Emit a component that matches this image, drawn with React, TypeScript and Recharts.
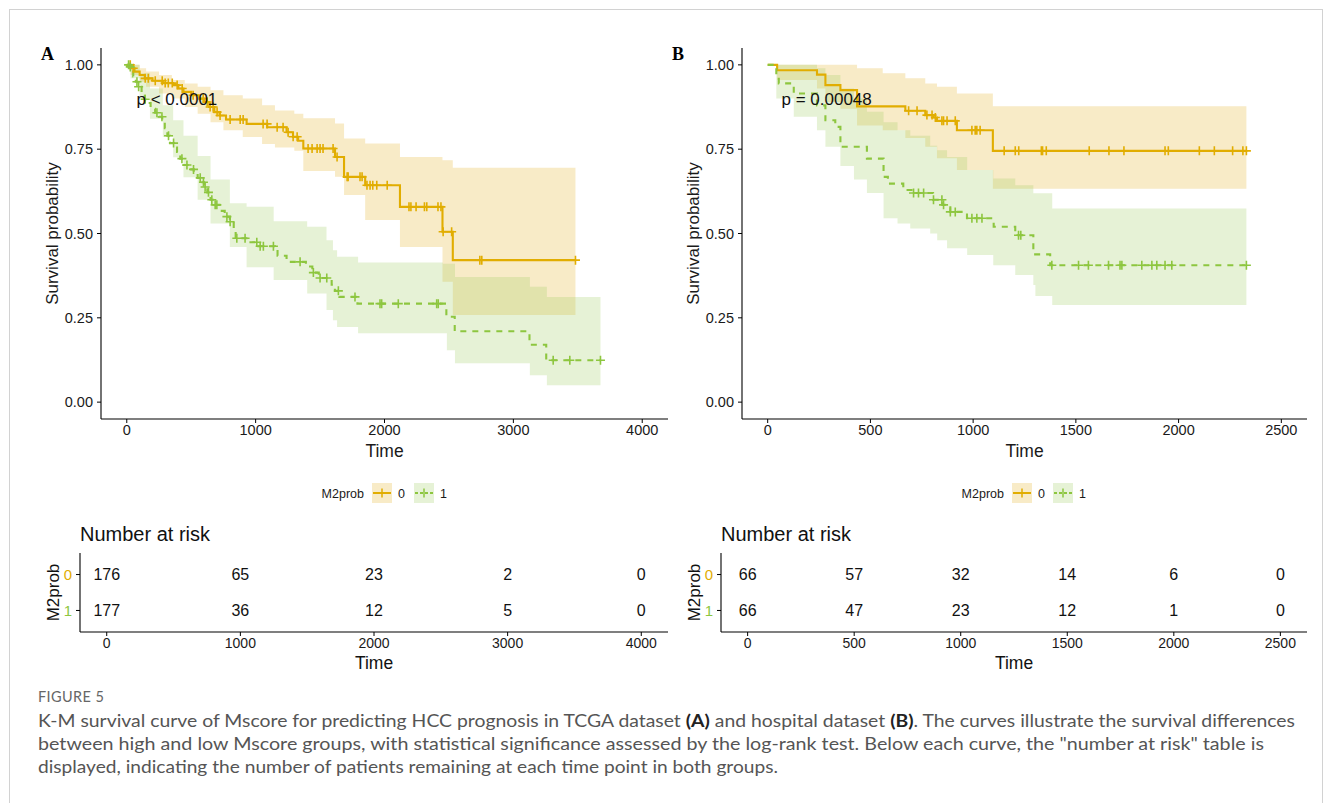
import React from "react";
import { ComposedChart, ScatterChart, Area, Line, Scatter, XAxis, YAxis } from "recharts";

// ---- colours ----
const ORANGE = "#E1AD01";
const GREEN = "#8DC63F";
const ORANGE_BAND = "#E9BC45";
const GREEN_BAND = "#9CCB5A";

// ---- panel A (TCGA), group 0 ----
const a0Time = [0, 30, 60, 100, 140, 200, 280, 360, 400, 440, 500, 560, 600, 640, 680, 720, 770, 930, 1090, 1240, 1290, 1330, 1370, 1616, 1686, 1850, 2120, 2450, 2530];
const a0Surv = [1, 0.99, 0.98, 0.97, 0.96, 0.953, 0.946, 0.94, 0.93, 0.92, 0.91, 0.9, 0.89, 0.875, 0.86, 0.85, 0.838, 0.825, 0.815, 0.8, 0.787, 0.775, 0.752, 0.727, 0.668, 0.643, 0.579, 0.505, 0.421];
const a0Cens = [27, 50, 143, 167, 221, 275, 298, 322, 353, 391, 430, 515, 593, 624, 647, 670, 701, 724, 802, 880, 903, 1058, 1089, 1167, 1213, 1252, 1291, 1322, 1407, 1438, 1477, 1500, 1523, 1601, 1632, 1710, 1718, 1810, 1826, 1864, 1888, 1909, 1940, 2021, 2190, 2205, 2245, 2310, 2328, 2415, 2438, 2455, 2521, 2740, 2755, 3482];
const a0End = 3482;
const a0BandTime = [0, 30, 100, 150, 250, 350, 450, 550, 650, 750, 900, 1050, 1150, 1300, 1370, 1616, 1686, 1850, 2120, 2450, 2530];
const a0Lower = [1, 0.97, 0.95, 0.935, 0.915, 0.9, 0.875, 0.855, 0.83, 0.806, 0.786, 0.765, 0.755, 0.745, 0.685, 0.668, 0.614, 0.54, 0.46, 0.357, 0.258];
const a0Upper = [1, 1, 0.99, 0.98, 0.97, 0.955, 0.945, 0.935, 0.925, 0.91, 0.9, 0.88, 0.865, 0.855, 0.842, 0.826, 0.782, 0.767, 0.727, 0.717, 0.695];

// ---- panel A (TCGA), group 1 ----
const a1Time = [0, 15, 30, 50, 70, 90, 115, 140, 160, 185, 220, 250, 275, 295, 315, 335, 365, 390, 415, 440, 480, 520, 550, 575, 600, 625, 650, 680, 720, 760, 800, 830, 845, 960, 1010, 1150, 1170, 1240, 1390, 1440, 1490, 1590, 1615, 1650, 1790, 2480, 2545, 3125, 3255];
const a1Surv = [1, 0.994, 0.983, 0.966, 0.95, 0.935, 0.915, 0.898, 0.887, 0.87, 0.858, 0.846, 0.83, 0.812, 0.79, 0.768, 0.755, 0.742, 0.722, 0.703, 0.69, 0.678, 0.665, 0.652, 0.638, 0.622, 0.6, 0.585, 0.567, 0.55, 0.535, 0.51, 0.486, 0.474, 0.462, 0.452, 0.434, 0.416, 0.402, 0.384, 0.368, 0.348, 0.33, 0.312, 0.292, 0.253, 0.21, 0.17, 0.124];
const a1Cens = [14, 27, 79, 92, 143, 234, 273, 324, 363, 428, 467, 518, 570, 595, 608, 634, 660, 686, 699, 777, 802, 854, 918, 1009, 1035, 1060, 1138, 1345, 1448, 1500, 1552, 1642, 1771, 1965, 1978, 2107, 2405, 2417, 3309, 3438, 3676];
const a1End = 3676;
const a1BandTime = [0, 30, 100, 180, 280, 360, 440, 550, 650, 800, 930, 1140, 1400, 1550, 1600, 1632, 1795, 2453, 2484, 2547, 3128, 3260];
const a1Lower = [1, 0.96, 0.9, 0.84, 0.786, 0.726, 0.667, 0.6, 0.53, 0.46, 0.4, 0.362, 0.322, 0.273, 0.243, 0.223, 0.204, 0.204, 0.154, 0.115, 0.08, 0.05];
const a1Upper = [1, 1, 0.975, 0.93, 0.88, 0.836, 0.79, 0.73, 0.66, 0.59, 0.579, 0.536, 0.52, 0.48, 0.45, 0.431, 0.414, 0.41, 0.41, 0.371, 0.342, 0.312];

// ---- panel B (hospital), group 0 ----
const b0Time = [0, 46, 240, 281, 354, 435, 670, 767, 807, 824, 921, 1096];
const b0Surv = [1, 0.984, 0.971, 0.94, 0.925, 0.877, 0.864, 0.851, 0.844, 0.834, 0.806, 0.745];
const b0Cens = [686, 727, 775, 800, 816, 848, 856, 873, 913, 994, 1010, 1018, 1034, 1151, 1205, 1222, 1332, 1338, 1356, 1565, 1661, 1734, 1934, 1950, 2101, 2174, 2263, 2313, 2330];
const b0End = 2330;
const b0BandTime = [0, 46, 240, 281, 354, 435, 560, 670, 767, 824, 921, 1096];
const b0Lower = [1, 0.955, 0.93, 0.89, 0.87, 0.82, 0.806, 0.783, 0.757, 0.723, 0.688, 0.633];
const b0Upper = [1, 1, 1, 1, 1, 0.99, 0.975, 0.96, 0.945, 0.935, 0.915, 0.877];

// ---- panel B (hospital), group 1 ----
const b1Time = [0, 42, 54, 127, 240, 281, 329, 354, 483, 564, 585, 660, 700, 805, 850, 889, 970, 1100, 1205, 1293, 1375];
const b1Surv = [1, 0.97, 0.945, 0.915, 0.88, 0.836, 0.816, 0.757, 0.722, 0.668, 0.648, 0.629, 0.62, 0.6, 0.585, 0.564, 0.545, 0.52, 0.495, 0.438, 0.406];
const b1Cens = [710, 734, 759, 807, 848, 856, 889, 913, 994, 1018, 1043, 1221, 1232, 1383, 1513, 1561, 1659, 1715, 1724, 1821, 1870, 1894, 1934, 1967, 2330];
const b1End = 2330;
const b1BandTime = [0, 42, 127, 240, 281, 354, 420, 483, 564, 632, 694, 791, 825, 873, 971, 1098, 1205, 1293, 1303, 1385];
const b1Lower = [1, 0.9, 0.846, 0.806, 0.757, 0.7, 0.66, 0.62, 0.545, 0.53, 0.515, 0.5, 0.48, 0.456, 0.436, 0.406, 0.377, 0.347, 0.315, 0.288];
const b1Upper = [1, 1, 1, 0.99, 0.97, 0.93, 0.9, 0.861, 0.83, 0.806, 0.79, 0.76, 0.747, 0.727, 0.688, 0.663, 0.643, 0.619, 0.619, 0.574];

// ---- axes / risk tables ----
const survTicks = [0, 0.25, 0.5, 0.75, 1];
const timeTicksA = [0, 1000, 2000, 3000, 4000];
const timeTicksB = [0, 500, 1000, 1500, 2000, 2500];
const riskA0 = [176, 65, 23, 2, 0];
const riskA1 = [177, 36, 12, 5, 0];
const riskB0 = [66, 57, 32, 14, 6, 0];
const riskB1 = [66, 47, 23, 12, 1, 0];

const FONT = "'Liberation Sans', Arial, Helvetica, sans-serif";

function stepAt(times: number[], surv: number[], t: number) {
  let s = surv[0];
  for (let i = 0; i < times.length; i++) if (times[i] <= t) s = surv[i];
  return s;
}

function buildCurve(times: number[], surv: number[], cens: number[], end: number) {
  const pts = times.map((t, i) => ({ t, s: surv[i], c: false }));
  cens.forEach((t) => pts.push({ t, s: stepAt(times, surv, t), c: true }));
  if (!cens.includes(end)) pts.push({ t: end, s: stepAt(times, surv, end), c: false });
  return pts.sort((a, b) => a.t - b.t);
}

function buildBand(times: number[], lo: number[], hi: number[], end: number) {
  const rows = times.map((t, i) => ({ t, ci: [lo[i], hi[i]] }));
  rows.push({ t: end, ci: [lo[lo.length - 1], hi[hi.length - 1]] });
  return rows;
}

const censorDot = (color: string) => (p: any) => {
  if (!p.payload || !p.payload.c) return <g key={`n${p.index}`} />;
  return (
    <path
      key={`c${p.index}`}
      d={`M${p.cx - 4.5},${p.cy}h9M${p.cx},${p.cy - 4.5}v9`}
      stroke={color}
      strokeWidth={1.6}
      fill="none"
    />
  );
};

const groupsA = [
  { band: buildBand(a0BandTime, a0Lower, a0Upper, a0End), line: buildCurve(a0Time, a0Surv, a0Cens, a0End), color: ORANGE, fill: ORANGE_BAND, op: 0.3, dash: undefined },
  { band: buildBand(a1BandTime, a1Lower, a1Upper, a1End), line: buildCurve(a1Time, a1Surv, a1Cens, a1End), color: GREEN, fill: GREEN_BAND, op: 0.25, dash: "6 6" },
];
const groupsB = [
  { band: buildBand(b0BandTime, b0Lower, b0Upper, b0End), line: buildCurve(b0Time, b0Surv, b0Cens, b0End), color: ORANGE, fill: ORANGE_BAND, op: 0.3, dash: undefined },
  { band: buildBand(b1BandTime, b1Lower, b1Upper, b1End), line: buildCurve(b1Time, b1Surv, b1Cens, b1End), color: GREEN, fill: GREEN_BAND, op: 0.25, dash: "6 6" },
];

const PLOT_TOP = 48;
const PLOT_BOTTOM = 419;
const SURV_H = 470;
const YAXIS_W = 60;

function SurvPlot({ left, plotLeft, plotRight, domain, ticks, groups }: any) {
  return (
    <div style={{ position: "absolute", left, top: 0 }}>
      <ComposedChart
        width={plotRight - left + 4}
        height={SURV_H}
        margin={{ top: PLOT_TOP, right: 4, bottom: 0, left: plotLeft - left - YAXIS_W }}
      >
        <XAxis
          type="number"
          dataKey="t"
          domain={domain}
          ticks={ticks}
          allowDataOverflow
          height={SURV_H - PLOT_BOTTOM}
          tickSize={4}
          tickMargin={2}
          axisLine={{ stroke: "#000", strokeWidth: 1.1 }}
          tickLine={{ stroke: "#000" }}
          tick={{ fill: "#1a1a1a", fontSize: 14.5 }}
        />
        <YAxis
          type="number"
          domain={[-0.05, 1.05]}
          ticks={survTicks}
          allowDataOverflow
          width={YAXIS_W}
          tickFormatter={(v: number) => v.toFixed(2)}
          tickSize={4}
          tickMargin={4}
          axisLine={{ stroke: "#000", strokeWidth: 1.1 }}
          tickLine={{ stroke: "#000" }}
          tick={{ fill: "#1a1a1a", fontSize: 14.5 }}
        />
        {groups.map((g: any, i: number) => (
          <Area
            key={`band${i}`}
            data={g.band}
            dataKey="ci"
            type="stepAfter"
            stroke="none"
            fill={g.fill}
            fillOpacity={g.op}
            isAnimationActive={false}
          />
        ))}
        {groups.map((g: any, i: number) => (
          <Line
            key={`line${i}`}
            data={g.line}
            dataKey="s"
            type="stepAfter"
            stroke={g.color}
            strokeWidth={2.1}
            strokeDasharray={g.dash}
            dot={censorDot(g.color)}
            activeDot={false}
            isAnimationActive={false}
          />
        ))}
      </ComposedChart>
    </div>
  );
}

const RowTick = (p: any) => {
  const v = p.payload.value;
  return (
    <text x={p.x} y={p.y} dy="0.355em" textAnchor="end" fontSize={15} fill={v === 2 ? ORANGE : GREEN}>
      {v === 2 ? "0" : "1"}
    </text>
  );
};

const NumberShape = (p: any) => (
  <text x={p.cx} y={p.cy} dy="0.355em" textAnchor="middle" fontSize={16} fill="#111">
    {p.payload.n}
  </text>
);

const RISK_TOP = 540;

function RiskTable({ left, plotLeft, plotRight, domain, ticks, n0, n1 }: any) {
  const data = [
    ...ticks.map((t: number, i: number) => ({ t, row: 2, n: n0[i] })),
    ...ticks.map((t: number, i: number) => ({ t, row: 1, n: n1[i] })),
  ];
  return (
    <div style={{ position: "absolute", left, top: RISK_TOP }}>
      <ScatterChart
        width={plotRight - left + 4}
        height={112}
        margin={{ top: 553 - RISK_TOP, right: 4, bottom: 0, left: plotLeft - left - 30 }}
      >
        <XAxis
          type="number"
          dataKey="t"
          domain={domain}
          ticks={ticks}
          allowDataOverflow
          height={20}
          tickSize={4}
          tickMargin={2}
          axisLine={{ stroke: "#000", strokeWidth: 1.1 }}
          tickLine={{ stroke: "#000" }}
          tick={{ fill: "#1a1a1a", fontSize: 14 }}
        />
        <YAxis
          type="number"
          dataKey="row"
          domain={[0.4, 2.6]}
          ticks={[1, 2]}
          allowDataOverflow
          width={30}
          tickSize={4}
          tickMargin={4}
          axisLine={{ stroke: "#000", strokeWidth: 1.1 }}
          tickLine={{ stroke: "#000" }}
          tick={<RowTick />}
        />
        <Scatter data={data} shape={NumberShape} isAnimationActive={false} />
      </ScatterChart>
    </div>
  );
}

function LegendKey({ x, y, color, fill, op, dash }: any) {
  const w = 20;
  const h = 20;
  const cy = y + h / 2;
  return (
    <g>
      <rect x={x} y={y} width={w} height={h} fill={fill} fillOpacity={op} />
      <line x1={x + 1} x2={x + w - 1} y1={cy} y2={cy} stroke={color} strokeWidth={2} strokeDasharray={dash} />
      <line x1={x + w / 2} x2={x + w / 2} y1={cy - 4.5} y2={cy + 4.5} stroke={color} strokeWidth={1.5} />
    </g>
  );
}

function Legend({ labelEnd, box0, zero, box1, one }: any) {
  return (
    <g fontSize={12.5} fill="#1a1a1a">
      <text x={labelEnd} y={497.5} textAnchor="end">M2prob</text>
      <LegendKey x={box0} y={483} color={ORANGE} fill={ORANGE_BAND} op={0.3} />
      <text x={zero} y={497.5}>0</text>
      <LegendKey x={box1} y={483} color={GREEN} fill={GREEN_BAND} op={0.25} dash="3 2" />
      <text x={one} y={497.5}>1</text>
    </g>
  );
}

export default function App() {
  return (
    <div style={{ position: "absolute", left: 0, top: 0, width: 1331, height: 803, background: "#fff", fontFamily: FONT, overflow: "hidden" }}>
      <div style={{ position: "absolute", left: 9, top: 9, width: 1312, height: 810, border: "1px solid #d2d2d2" }} />

      <SurvPlot left={0} plotLeft={101} plotRight={668} domain={[-200, 4200]} ticks={timeTicksA} groups={groupsA} />
      <SurvPlot left={660} plotLeft={742} plotRight={1307} domain={[-125, 2625]} ticks={timeTicksB} groups={groupsB} />
      <RiskTable left={0} plotLeft={80} plotRight={668} domain={[-200, 4200]} ticks={timeTicksA} n0={riskA0} n1={riskA1} />
      <RiskTable left={660} plotLeft={721} plotRight={1307} domain={[-125, 2625]} ticks={timeTicksB} n0={riskB0} n1={riskB1} />

      <svg width={1331} height={803} style={{ position: "absolute", left: 0, top: 0, pointerEvents: "none" }} fontFamily={FONT}>
        <text x={41} y={60} fontFamily="'Liberation Serif', 'Times New Roman', serif" fontWeight="bold" fontSize={18}>A</text>
        <text x={672} y={60} fontFamily="'Liberation Serif', 'Times New Roman', serif" fontWeight="bold" fontSize={18}>B</text>

        <text transform="translate(58,233.5) rotate(-90)" textAnchor="middle" fontSize={17} fill="#1a1a1a">Survival probability</text>
        <text transform="translate(699,233.5) rotate(-90)" textAnchor="middle" fontSize={17} fill="#1a1a1a">Survival probability</text>
        <text x={384.5} y={457} textAnchor="middle" fontSize={17.5} fill="#1a1a1a">Time</text>
        <text x={1024.5} y={457} textAnchor="middle" fontSize={17.5} fill="#1a1a1a">Time</text>

        <text x={136.5} y={105} fontSize={17} fill="#111">p &lt; 0.0001</text>
        <text x={781.5} y={105} fontSize={17} fill="#111">p = 0.00048</text>

        <Legend labelEnd={364} box0={372} zero={398} box1={414} one={440} />
        <Legend labelEnd={1004} box0={1012} zero={1038} box1={1053} one={1079} />

        <text x={80} y={541} fontSize={20} fill="#111">Number at risk</text>
        <text x={721} y={541} fontSize={20} fill="#111">Number at risk</text>
        <text transform="translate(59,592.5) rotate(-90)" textAnchor="middle" fontSize={17} fill="#111">M2prob</text>
        <text transform="translate(700,592.5) rotate(-90)" textAnchor="middle" fontSize={17} fill="#111">M2prob</text>
        <text x={374} y={669} textAnchor="middle" fontSize={17.5} fill="#111">Time</text>
        <text x={1014} y={669} textAnchor="middle" fontSize={17.5} fill="#111">Time</text>

        <g fontFamily="Lato, 'Open Sans', sans-serif" fill="#555">
          <text x={38} y={702} fontSize={14.5} letterSpacing={0.4} fill="#666">FIGURE 5</text>
          <text x={38} y={727} fontSize={16.5} textLength={1257} lengthAdjust="spacingAndGlyphs">
            K-M survival curve of Mscore for predicting HCC prognosis in TCGA dataset <tspan fontWeight="bold" fill="#222">(A)</tspan> and hospital dataset <tspan fontWeight="bold" fill="#222">(B)</tspan>. The curves illustrate the survival differences
          </text>
          <text x={38} y={750} fontSize={16.5} textLength={1226} lengthAdjust="spacingAndGlyphs">
            between high and low Mscore groups, with statistical significance assessed by the log-rank test. Below each curve, the "number at risk" table is
          </text>
          <text x={38} y={773} fontSize={16.5} textLength={740} lengthAdjust="spacingAndGlyphs">
            displayed, indicating the number of patients remaining at each time point in both groups.
          </text>
        </g>
      </svg>
    </div>
  );
}
